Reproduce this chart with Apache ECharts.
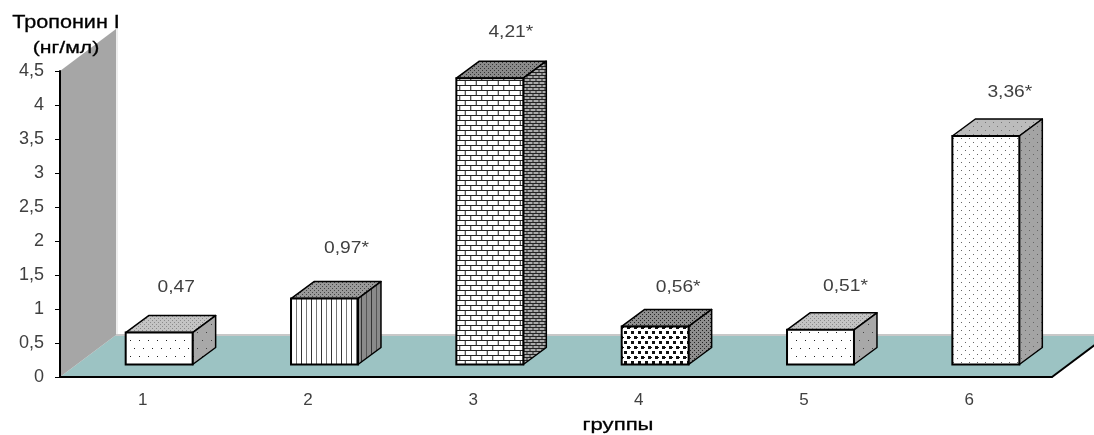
<!DOCTYPE html>
<html>
<head>
<meta charset="utf-8">
<style>
  html, body { margin: 0; padding: 0; background: #fff; }
  #chart { width: 1094px; height: 435px; }
</style>
<script src="https://cdn.jsdelivr.net/npm/echarts@6/dist/echarts.min.js"></script>
</head>
<body>
<div id="chart"></div>
<script>
  const groups = ['1', '2', '3', '4', '5', '6'];
  const troponin = [0.47, 0.97, 4.21, 0.56, 0.51, 3.36];
  const valueLabels = ['0,47', '0,97*', '4,21*', '0,56*', '0,51*', '3,36*'];
  const barFills = ['dots', 'stripes', 'bricks', 'blobs', 'dots', 'fine'];
  // hand placed labels in the original, offset from the front top corner centre
  const labelShiftX = [17, 22, 21, 23, 25, 24];
  const labelShiftY = [-45, -50, -46, -39, -43, -43];

  const FONT = '"Liberation Sans", Arial, sans-serif';
  const WALL_DX = 56, WALL_DY = 42;
  const BAR_DX = 23, BAR_DY = 17;

  // small canvas tiles, used as repeat patterns
  function tile(w, h, bg, draw) {
    const c = document.createElement('canvas');
    c.width = w;
    c.height = h;
    const ctx = c.getContext('2d');
    ctx.fillStyle = bg;
    ctx.fillRect(0, 0, w, h);
    draw(ctx);
    return { image: c, repeat: 'repeat' };
  }
  function dots(bg, ink) {
    return tile(18, 16, bg, (g) => {
      g.fillStyle = ink;
      g.fillRect(4, 4, 1, 1);
      g.fillRect(13, 4, 1, 1);
      g.fillRect(8, 12, 1, 1);
      g.fillRect(17, 12, 1, 1);
    });
  }
  function fine(bg, ink) {
    return tile(8, 8, bg, (g) => {
      g.fillStyle = ink;
      g.fillRect(1, 2, 1, 1);
      g.fillRect(5, 6, 1, 1);
    });
  }
  function speck(bg, ink) {
    return tile(4, 4, bg, (g) => {
      g.fillStyle = ink;
      g.fillRect(0, 0, 1, 1);
      g.fillRect(2, 2, 1, 1);
    });
  }
  function stripes(bg, ink, soft) {
    return tile(10, 4, bg, (g) => {
      g.fillStyle = ink;
      g.fillRect(1, 0, 1, 4);
      g.fillStyle = soft;
      g.fillRect(6, 0, 1, 4);
    });
  }
  function bricks(bg, ink, w, h) {
    return tile(w, h, bg, (g) => {
      g.fillStyle = ink;
      g.fillRect(0, 0, w, 1);
      g.fillRect(0, h / 2, w, 1);
      g.fillRect(w / 4, 0, 1, h / 2);
      g.fillRect(w * 3 / 4, h / 2, 1, h / 2);
    });
  }
  function blobs(bg, ink) {
    return tile(7, 10, bg, (g) => {
      g.fillStyle = ink;
      g.fillRect(1, 1, 3, 3);
      g.fillRect(4, 6, 3, 3);
      g.fillRect(0, 7, 1, 1);
    });
  }
  const fills = {
    dots: { front: dots('#ffffff', '#222222'), top: speck('#c4c4c4', '#8a8a8a'), side: dots('#a8a8a8', '#444444') },
    stripes: { front: stripes('#ffffff', '#333333', '#777777'), top: speck('#9a9a9a', '#444444'), side: stripes('#8a8a8a', '#333333', '#555555') },
    bricks: { front: bricks('#ffffff', '#222222', 11, 10), top: speck('#8a8a8a', '#333333'), side: bricks('#aaaaaa', '#222222', 6, 6) },
    blobs: { front: blobs('#ffffff', '#111111'), top: speck('#8e8e8e', '#222222'), side: speck('#8e8e8e', '#222222') },
    fine: { front: fine('#ffffff', '#666666'), top: fine('#bcbcbc', '#777777'), side: fine('#a4a4a4', '#666666') }
  };

  function renderRoom(params, api) {
    const box = params.coordSys;
    const x0 = box.x, x1 = box.x + box.width;
    const y0 = api.coord([0, 0])[1];
    const yTop = api.coord([0, 4.5])[1];
    const backY = y0 - WALL_DY;
    return {
      type: 'group',
      children: [
        { type: 'polygon', shape: { points: [[x0, y0], [x0 + WALL_DX, backY], [x1 + WALL_DX, backY], [x1, y0]] },
          style: { fill: '#9cc3c3' } },
        { type: 'polygon', shape: { points: [[x0, yTop], [x0 + WALL_DX, yTop - WALL_DY], [x0 + WALL_DX, backY], [x0, y0]] },
          style: { fill: '#a6a6a6' } },
        { type: 'line', shape: { x1: x0 + WALL_DX + 1, y1: yTop - WALL_DY, x2: x0 + WALL_DX + 1, y2: backY },
          style: { stroke: '#dcdcdc', lineWidth: 1 } },
        { type: 'line', shape: { x1: x0 + WALL_DX, y1: backY, x2: x1 + WALL_DX, y2: backY },
          style: { stroke: '#c8c8c8', lineWidth: 2 } },
        { type: 'line', shape: { x1: x1, y1: y0, x2: x1 + WALL_DX, y2: backY },
          style: { stroke: '#000', lineWidth: 2 } }
      ]
    };
  }

  function renderBar(params, api) {
    const i = api.value(0);
    const base = api.coord([i, 0]);
    const h = api.size([0, api.value(1)])[1];
    const w = api.size([1, 0])[0] * 0.405;
    const fill = fills[barFills[i]];
    const left = base[0] - w / 2 + (WALL_DX - BAR_DX) / 2;
    const bottom = base[1] - (WALL_DY - BAR_DY) / 2;
    const top = bottom - h;
    const right = left + w;
    const line = { stroke: '#000', lineWidth: 1.5, lineJoin: 'round' };
    return {
      type: 'group',
      children: [
        { type: 'polygon', shape: { points: [[left, top], [left + BAR_DX, top - BAR_DY], [right + BAR_DX, top - BAR_DY], [right, top]] },
          style: Object.assign({ fill: fill.top }, line) },
        { type: 'polygon', shape: { points: [[right, top], [right + BAR_DX, top - BAR_DY], [right + BAR_DX, bottom - BAR_DY], [right, bottom]] },
          style: Object.assign({ fill: fill.side }, line) },
        { type: 'rect', shape: { x: left, y: top, width: w, height: h },
          style: { fill: fill.front, stroke: '#000', lineWidth: 2 } },
        { type: 'text', x: base[0] + (WALL_DX - BAR_DX) / 2 + labelShiftX[i], y: top + labelShiftY[i], scaleX: 1.2,
          style: { text: valueLabels[i], fill: '#404040', font: '16px ' + FONT, align: 'center', verticalAlign: 'middle' } }
      ]
    };
  }

  const chart = echarts.init(document.getElementById('chart'));
  chart.setOption({
    animation: false,
    backgroundColor: '#fff',
    grid: { left: 60, right: 42, top: 71, bottom: 58 },
    xAxis: {
      type: 'category',
      data: groups,
      z: 5,
      axisLine: { lineStyle: { color: '#000', width: 2 } },
      axisTick: { length: 6, lineStyle: { color: '#000', width: 1 } },
      axisLabel: { color: '#404040', fontFamily: FONT, fontSize: 17, margin: 15 }
    },
    yAxis: {
      type: 'value',
      min: 0,
      max: 4.5,
      interval: 0.5,
      z: 5,
      splitLine: { show: false },
      axisLine: { show: true, lineStyle: { color: '#000', width: 2 } },
      axisTick: { show: true, length: 5, lineStyle: { color: '#000', width: 1 } },
      axisLabel: {
        color: '#404040',
        fontFamily: FONT,
        fontSize: 18,
        margin: 16,
        formatter: (v) => String(v).replace('.', ',')
      }
    },
    graphic: [
      { type: 'text', x: 66, y: 23, scaleX: 1.2, z: 10,
        style: { text: 'Тропонин I', fill: '#000', stroke: '#000', lineWidth: 0.3, font: '18px ' + FONT, align: 'center', verticalAlign: 'middle' } },
      { type: 'text', x: 66, y: 48, scaleX: 1.25, z: 10,
        style: { text: '(нг/мл)', fill: '#000', stroke: '#000', lineWidth: 0.3, font: '17px ' + FONT, align: 'center', verticalAlign: 'middle' } },
      { type: 'text', x: 618, y: 425, scaleX: 1.3, z: 10,
        style: { text: 'группы', fill: '#000', stroke: '#000', lineWidth: 0.3, font: '17px ' + FONT, align: 'center', verticalAlign: 'middle' } }
    ],
    series: [
      { type: 'custom', silent: true, z: 1, clip: false, data: [[0, 0]], renderItem: renderRoom },
      { type: 'custom', silent: true, z: 2, clip: false,
        data: troponin.map((v, i) => [i, v]), renderItem: renderBar }
    ]
  });
</script>
</body>
</html>
